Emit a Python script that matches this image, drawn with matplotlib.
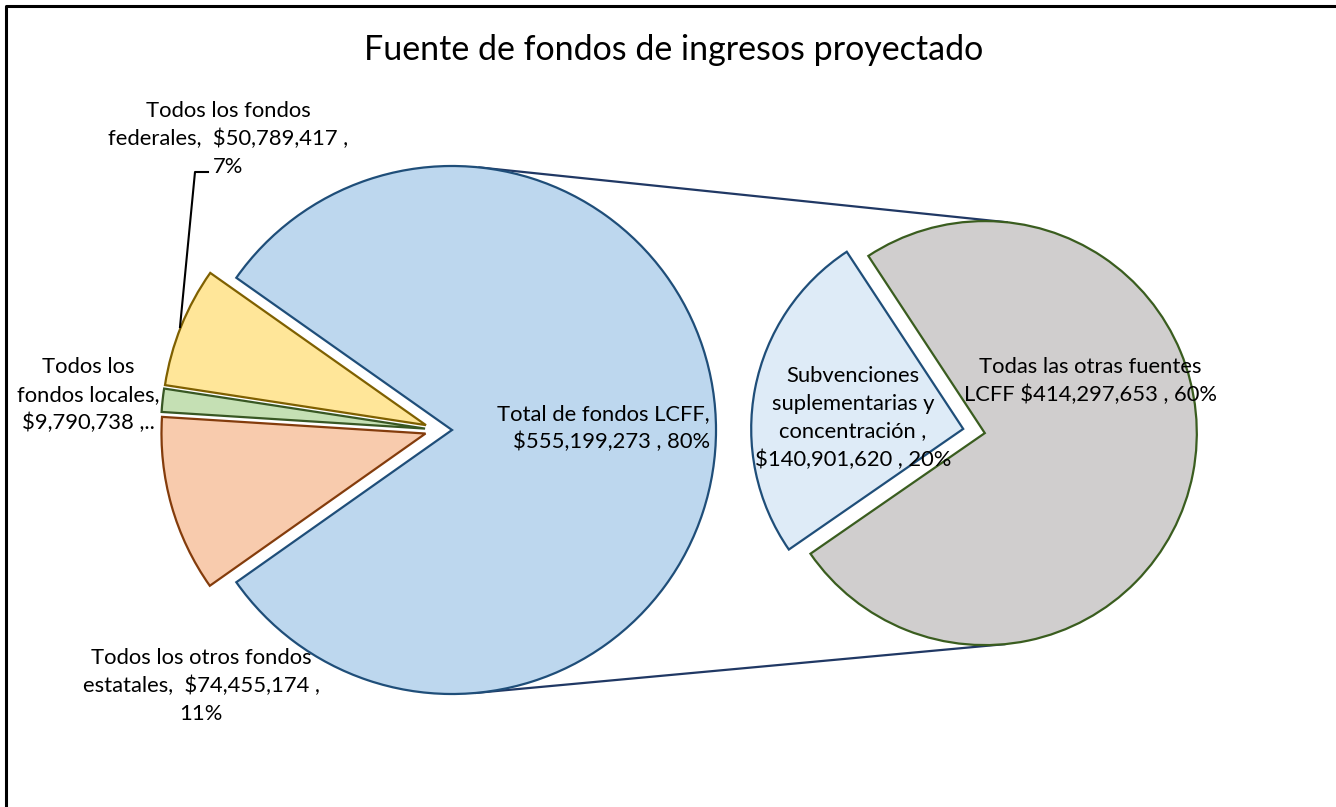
import numpy as np
import matplotlib.pyplot as plt

# data
main_labels = ["Total de fondos LCFF", "Todos los fondos\nfederales, ", "Todos los\nfondos locales,\n", "Todos los otros fondos\nestatales, "]
main_values = [555199273, 50789417, 9790738, 74455174]
split_labels = ["Subvenciones\nsuplementarias y\nconcentración ,", "Todas las otras fuentes\nLCFF"]
split_values = [140901620, 414297653]

main_colors = ["#BDD7EE", "#FFE699", "#C5E0B4", "#F8CBAD"]
main_edges = ["#1F4E79", "#7F6000", "#385723", "#843C0C"]
split_colors = ["#DEEBF7", "#D0CECE"]
split_edges = ["#1F4E79", "#3A5D1F"]

W, H = 1336, 807
plt.rcParams['font.family'] = ['Lato', 'DejaVu Sans']

def Y(y):
    # pixel row (from top) -> axis coordinate
    return H - y

total = sum(main_values)
pct = lambda v: "{:.0f}%".format(100 * v / total)
money = lambda v: "${:,}".format(v)

fig = plt.figure(figsize=(W / 100, H / 100), dpi=100)
ax = fig.add_axes([0, 0, 1, 1])

# left pie (explode is in data units = pixels here)
r1 = 264
c1 = (438, Y(430))
lcff_deg = 360 * main_values[0] / total
wl, _ = ax.pie(main_values, center=c1, radius=r1, colors=main_colors,
               startangle=-lcff_deg / 2, counterclock=True,
               explode=[14, 13, 13, 13],
               wedgeprops=dict(linewidth=1.6))
for w, ec in zip(wl, main_edges):
    w.set_edgecolor(ec)

# right pie (split of LCFF)
r2 = 212
c2 = (974, Y(431))
sub_deg = 360 * split_values[0] / sum(split_values)
wr, _ = ax.pie(split_values, center=c2, radius=r2, colors=split_colors,
               startangle=169 - sub_deg / 2, counterclock=True,
               explode=[11, 11],
               wedgeprops=dict(linewidth=1.6))
for w, ec in zip(wr, split_edges):
    w.set_edgecolor(ec)

# connector lines: outer tangents between LCFF circle and grey circle
p1 = np.array(wl[0].center)
p2 = np.array(wr[1].center)
d = p2 - p1
dist = np.hypot(*d)
base = np.arctan2(d[1], d[0])
phi = np.arccos((r1 - r2) / dist)
for s in (1, -1):
    a = base + s * phi
    n = np.array([np.cos(a), np.sin(a)])
    q1 = p1 + r1 * n
    q2 = p2 + r2 * n
    ax.plot([q1[0], q2[0]], [q1[1], q2[1]], color="#203864", lw=1.6, zorder=0)

ax.set_xlim(0, W)
ax.set_ylim(0, H)
ax.set_aspect('equal')
ax.axis('off')

fs = 15.8
ls = 1.48
ax.text(674, Y(50), "Fuente de fondos de ingresos proyectado", fontsize=24.5,
        ha='center', va='center', color='black')

ax.text(710, Y(428), main_labels[0] + ",\n" + money(main_values[0]) + " , " + pct(main_values[0]),
        fontsize=fs, ha='right', va='center', multialignment='right', linespacing=ls)
ax.text(228, Y(139), main_labels[1] + " " + money(main_values[1]) + " ,\n" + pct(main_values[1]),
        fontsize=fs, ha='center', va='center', linespacing=ls)
ax.text(88, Y(395), main_labels[2] + money(main_values[2]) + " ,..",
        fontsize=fs, ha='center', va='center', linespacing=ls)
ax.text(201, Y(686), main_labels[3] + " " + money(main_values[3]) + " ,\n" + pct(main_values[3]),
        fontsize=fs, ha='center', va='center', linespacing=ls)
ax.text(853, Y(418), split_labels[0] + "\n" + money(split_values[0]) + " , " + pct(split_values[0]),
        fontsize=fs, ha='center', va='center', linespacing=ls)
ax.text(1090, Y(381), split_labels[1] + " " + money(split_values[1]) + " , " + pct(split_values[1]),
        fontsize=fs, ha='center', va='center', linespacing=ls)

# leader line for federal label
ax.plot([208, 195, 180], [Y(172), Y(172), Y(327)], color='black', lw=1.5)

# chart border
ax.plot([6, 6, W], [0, Y(6), Y(6)], color='black', lw=2.2, clip_on=False)

fig.savefig("out.png", dpi=100)
